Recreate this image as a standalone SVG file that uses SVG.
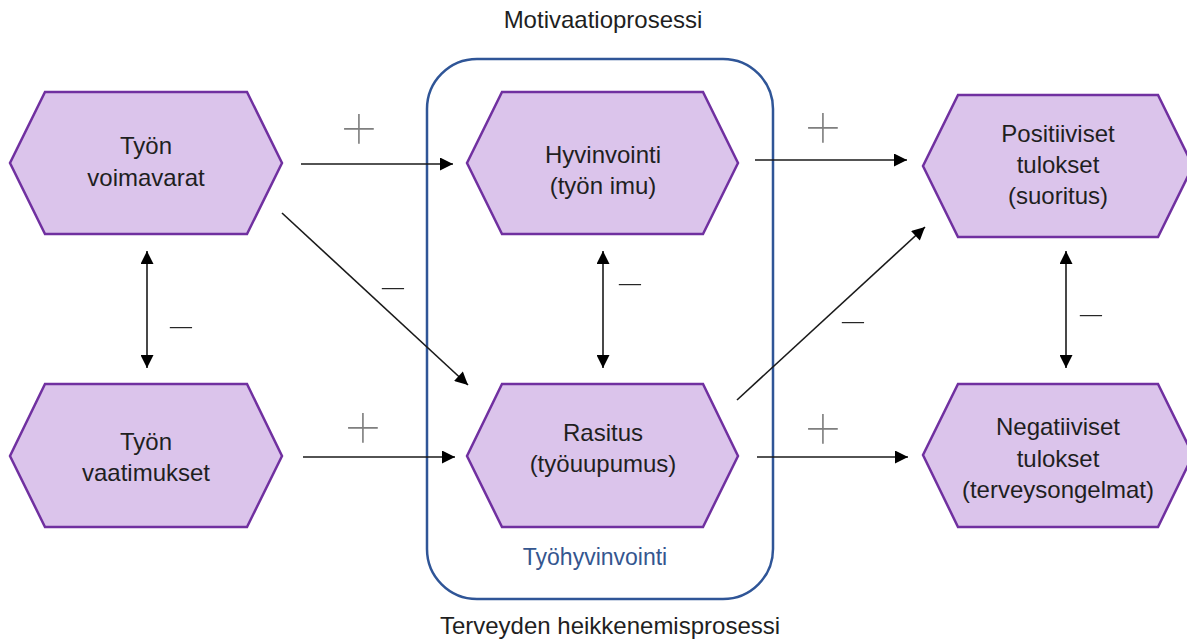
<svg xmlns="http://www.w3.org/2000/svg" width="1187" height="643" viewBox="0 0 1187 643">
<defs>
<style>
.hex{fill:#DBC4EB;stroke:#7030A0;stroke-width:2.5;stroke-linejoin:miter}
.t{font-family:"Liberation Sans",Arial,sans-serif;font-size:24px;fill:#1f1f1f;text-anchor:middle}
.c{stroke:#1a1a1a;stroke-width:1.6;fill:none}
.plus{font-family:Inter,"Noto Sans",sans-serif;font-weight:100;font-size:72px;fill:#7f7f7f;text-anchor:middle}
.minus{font-family:Inter,"Noto Sans",sans-serif;font-weight:100;font-size:54px;fill:#262626;text-anchor:middle}
</style>
<marker id="ah" viewBox="0 0 10 10" refX="10" refY="5" markerUnits="userSpaceOnUse" markerWidth="15" markerHeight="13" orient="auto-start-reverse">
<path d="M0,0 L10,5 L0,10 z" fill="#000"/>
</marker>
</defs>
<rect width="1187" height="643" fill="#fff"/>

<g id="tyohyvinvointi">
<rect x="427" y="59" width="346" height="540" rx="50" ry="50" fill="none" stroke="#2F5597" stroke-width="2.5"/>
<text x="595" y="565" style="font-family:'Liberation Sans',Arial,sans-serif;font-size:23px;fill:#34568F;text-anchor:middle">Työhyvinvointi</text>
</g>

<g id="title-top"><text class="t" x="603" y="28">Motivaatioprosessi</text></g>
<g id="title-bottom"><text class="t" x="610" y="634">Terveyden heikkenemisprosessi</text></g>

<g id="n-voimavarat">
<polygon class="hex" points="45,92 247,92 282,163 247,234 45,234 10,163"/>
<text class="t" x="146" y="154">Työn</text>
<text class="t" x="146" y="186">voimavarat</text>
</g>
<g id="n-vaatimukset">
<polygon class="hex" points="45,384 247,384 282,456 247,527 45,527 10,456"/>
<text class="t" x="146" y="450">Työn</text>
<text class="t" x="146" y="481">vaatimukset</text>
</g>
<g id="n-hyvinvointi">
<polygon class="hex" points="502,92 703,92 738,163 703,234 502,234 467,163"/>
<text class="t" x="603" y="163">Hyvinvointi</text>
<text class="t" x="603" y="194">(työn imu)</text>
</g>
<g id="n-rasitus">
<polygon class="hex" points="502,384 703,384 738,456 703,527 502,527 467,456"/>
<text class="t" x="603" y="441">Rasitus</text>
<text class="t" x="603" y="472">(työuupumus)</text>
</g>
<g id="n-positiiviset">
<polygon class="hex" points="958,95 1158,95 1193,166 1158,237 958,237 923,166"/>
<text class="t" x="1058" y="142">Positiiviset</text>
<text class="t" x="1058" y="173">tulokset</text>
<text class="t" x="1058" y="204">(suoritus)</text>
</g>
<g id="n-negatiiviset">
<polygon class="hex" points="958,384 1158,384 1193,455 1158,527 958,527 923,455"/>
<text class="t" x="1058" y="435">Negatiiviset</text>
<text class="t" x="1058" y="467">tulokset</text>
<text class="t" x="1058" y="498">(terveysongelmat)</text>
</g>

<g id="connectors">
<line class="c" x1="301" y1="164" x2="453" y2="164" marker-end="url(#ah)"/>
<line class="c" x1="282" y1="213" x2="468" y2="385" marker-end="url(#ah)"/>
<line class="c" x1="303" y1="457" x2="455" y2="457" marker-end="url(#ah)"/>
<line class="c" x1="147" y1="251" x2="147" y2="368" marker-start="url(#ah)" marker-end="url(#ah)"/>
<line class="c" x1="603" y1="251" x2="603" y2="368" marker-start="url(#ah)" marker-end="url(#ah)"/>
<line class="c" x1="1066" y1="251" x2="1066" y2="368" marker-start="url(#ah)" marker-end="url(#ah)"/>
<line class="c" x1="755" y1="160" x2="907" y2="160" marker-end="url(#ah)"/>
<line class="c" x1="737" y1="400" x2="925" y2="227" marker-end="url(#ah)"/>
<line class="c" x1="757" y1="457" x2="908" y2="457" marker-end="url(#ah)"/>
</g>

<g id="labels">
<text class="plus" x="359" y="149">+</text>
<text class="plus" x="363" y="448">+</text>
<text class="plus" x="823" y="148">+</text>
<text class="plus" x="823" y="449">+</text>
<text class="minus" x="393" y="304">−</text>
<text class="minus" x="181" y="343">−</text>
<text class="minus" x="630" y="300">−</text>
<text class="minus" x="853" y="338">−</text>
<text class="minus" x="1091" y="331">−</text>
</g>
</svg>
